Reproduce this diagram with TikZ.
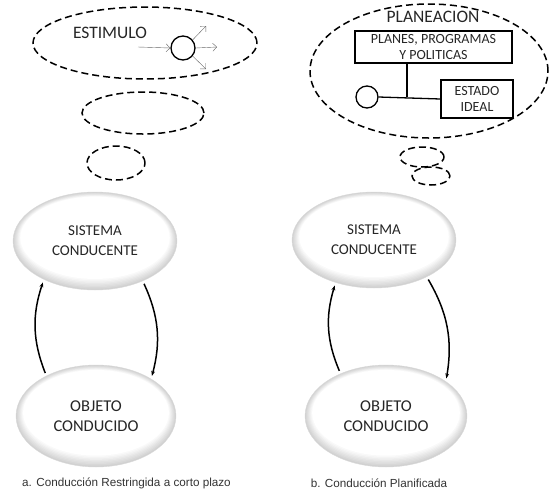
\documentclass[tikz,border=0pt]{standalone}
\usepackage{fontspec}
\setmainfont{Carlito}
\newfontfamily\capfont{Liberation Sans}
\usetikzlibrary{shapes.geometric,arrows.meta,positioning}
% soft grey rim behind a bubble: centre x, centre y, rx, ry
\newcommand{\bubbleback}[4]{%
  \foreach \k in {0,...,8}{
    \pgfmathsetmacro{\shadeval}{18-2.25*\k}
    \fill[black!\shadeval] (#1,{#2-0.4*\k}) ellipse ({#3*(1-0.011*\k)} and {#4*(1-0.02*\k)});
  }}

\begin{document}
\begin{tikzpicture}[
  x=1pt, y=-1pt,
  thought/.style={ellipse, draw, dash pattern=on 7pt off 4pt, line width=1.5pt, inner sep=0pt},
  bubble/.style={ellipse, draw=black!15, thin, inner sep=0pt, align=center, text=black!85},
  small text/.style={font=\fontsize{15}{20}\selectfont},
  big text/.style={font=\fontsize{16.5}{20}\selectfont},
  title/.style={font=\fontsize{17.5}{20}\selectfont, text=black!85, inner sep=0pt},
  box/.style={rectangle, draw, line width=1.2pt, align=center, inner sep=1pt, font=\fontsize{14}{16}\selectfont, text=black!85},
  dot/.style={circle, draw, line width=1.3pt, inner sep=0pt},
  thin arrow/.style={draw=black!60, thin, -{Straight Barb[length=4pt]}},
  loop arrow/.style={line width=1.5pt, -{Stealth[length=5pt]}, shorten <=3pt, shorten >=3pt},
  caption/.style={font=\capfont\fontsize{11.7}{13}\selectfont, text=black!80}
]
\useasboundingbox (0,0) rectangle (550,491);

% a. conduccion restringida
\node[thought, minimum width=224, minimum height=72] (thA1) at (145,43) {};
\node[thought, minimum width=122, minimum height=42] (thA2) at (143,113) {};
\node[thought, minimum width=58, minimum height=34] (thA3) at (116,163) {};
\node[title] (estim) at (110,33) {ESTIMULO};
\node[dot, minimum size=24] (stim) at (183,48) {};
\coordinate (stimIn) at (138,47);
\coordinate (outA) at (206,26);
\coordinate (outB) at (217,47);
\coordinate (outC) at (206,69);
\draw[thin arrow] (stimIn) -- (stim.west);
\draw[thin arrow] (stim.40) -- (outA);
\draw[thin arrow] (stim.east) -- (outB);
\draw[thin arrow] (stim.-40) -- (outC);

\bubbleback{95}{241}{82}{49}
\bubbleback{96}{416}{80}{51}
\node[bubble, small text, minimum width=164, minimum height=98] (sisA) at (95,241) {SISTEMA\\CONDUCENTE};
\node[bubble, big text, minimum width=160, minimum height=102] (objA) at (96,416) {OBJETO\\CONDUCIDO};
\draw[loop arrow] (objA.141) to[bend left=20] (sisA.217);
\draw[loop arrow] (sisA.320) to[bend left=20] (objA.34);
\node[caption] (capA) at (126.5,483) {a. Conducción Restringida a corto plazo};

% b. conduccion planificada
\node[thought, minimum width=238, minimum height=134] (thB1) at (429,71) {};
\node[thought, minimum width=44, minimum height=20] (thB2) at (422,157) {};
\node[thought, minimum width=38, minimum height=18] (thB3) at (431,176) {};
\node[title] (plan) at (433,17) {PLANEACION};
\node[box, minimum width=157, minimum height=32] (planes) at (433.5,47) {PLANES, PROGRAMAS\\Y POLITICAS};
\node[box, minimum width=72, minimum height=38] (estado) at (477,99) {ESTADO\\IDEAL};
\node[dot, minimum size=22] (planC) at (367,97) {};
\coordinate (junc) at (407,97);
\draw[line width=1.3pt] (planC.east) -- (estado.west);
\draw[line width=1.3pt] (planes.south -| junc) -- (junc);

\bubbleback{374}{240}{82}{48}
\bubbleback{386}{416}{81}{51}
\node[bubble, small text, minimum width=164, minimum height=96] (sisB) at (374,240) {SISTEMA\\CONDUCENTE};
\node[bubble, big text, minimum width=162, minimum height=102] (objB) at (386,416) {OBJETO\\CONDUCIDO};
\draw[loop arrow] (objB.137) to[bend left=20] (sisB.228);
\draw[loop arrow] (sisB.325) to[bend left=20] (objB.30);
\node[caption] (capB) at (379,483) {b. Conducción Planificada};
\end{tikzpicture}
\end{document}
